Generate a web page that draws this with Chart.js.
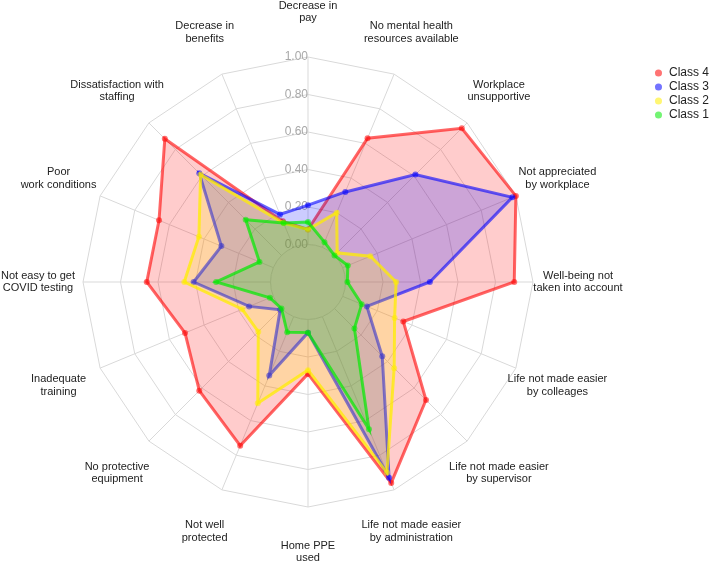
<!DOCTYPE html>
<html>
<head>
<meta charset="utf-8">
<script src="https://cdn.jsdelivr.net/npm/chart.js@4.4.1/dist/chart.umd.min.js"></script>
<style>
  html, body { margin: 0; padding: 0; background: #fff; }
  #wrap { width: 709px; height: 565px; }
</style>
</head>
<body>
<div id="wrap"><canvas id="radarChart"></canvas></div>
<script>
const labels = [
    ['Decrease in', 'pay'],
    ['No mental health', 'resources available'],
    ['Workplace', 'unsupportive'],
    ['Not appreciated', 'by workplace'],
    ['Well-being not', 'taken into account'],
    ['Life not made easier', 'by colleages'],
    ['Life not made easier', 'by supervisor'],
    ['Life not made easier', 'by administration'],
    ['Home PPE', 'used'],
    ['Not well', 'protected'],
    ['No protective', 'equipment'],
    ['Inadequate', 'training'],
    ['Not easy to get', 'COVID testing'],
    ['Poor', 'work conditions'],
    ['Dissatisfaction with', 'staffing'],
    ['Decrease in', 'benefits']
];

const class4 = [0.08, 0.63, 0.96, 1.00, 0.90, 0.35, 0.69, 0.96, 0.29, 0.745, 0.62, 0.51, 0.66, 0.66, 0.88, 0.15];
const class3 = [0.21, 0.32, 0.61, 0.98, 0.45, 0.14, 0.36, 0.93, 0.07, 0.34, 0.01, 0.14, 0.41, 0.30, 0.62, 0.19];
const class2 = [0.08, 0.20, 0.02, 0.16, 0.27, 0.30, 0.45, 0.90, 0.27, 0.50, 0.175, 0.18, 0.46, 0.43, 0.61, 0.14];
const class1 = [0.12, 0.03, 0.00, 0.03, 0.01, 0.11, 0.15, 0.65, 0.07, 0.09, 0.00, 0.02, 0.29, 0.08, 0.27, 0.14];

const tickValues = [0, 0.2, 0.4, 0.6, 0.8, 1.0];

const gridColor = '#d9d9d9';
const fontFamily = '"Liberation Sans", Arial, sans-serif';

function series(name, values, rgb, lineAlpha) {
    return {
        label: name,
        data: values,
        backgroundColor: 'rgba(' + rgb + ',0.2)',
        borderColor: 'rgba(' + rgb + ',' + lineAlpha + ')',
        borderWidth: 3,
        pointRadius: 3,
        pointBorderWidth: 0,
        pointBackgroundColor: 'rgba(' + rgb + ',0.55)',
        fill: 'start'
    };
}

// zero ring, tick labels and centred axis labels
const radarExtras = {
    id: 'radarExtras',
    beforeDatasetsDraw(chart) {
        const scale = chart.scales.r;
        const ctx = chart.ctx;
        const r0 = scale.getDistanceFromCenterForValue(0);
        ctx.save();
        ctx.beginPath();
        ctx.arc(scale.xCenter, scale.yCenter, r0, 0, Math.PI * 2);
        ctx.fillStyle = '#fff';
        ctx.fill();
        ctx.strokeStyle = gridColor;
        ctx.lineWidth = 1;
        ctx.stroke();

        ctx.font = '12px ' + fontFamily;
        ctx.fillStyle = '#a8a8a8';
        ctx.textAlign = 'right';
        ctx.textBaseline = 'middle';
        tickValues.forEach(v => {
            ctx.fillText(v.toFixed(2), scale.xCenter, scale.yCenter - scale.getDistanceFromCenterForValue(v));
        });
        ctx.restore();
    },
    afterDraw(chart) {
        const scale = chart.scales.r;
        const ctx = chart.ctx;
        ctx.save();
        ctx.font = '11px ' + fontFamily;
        ctx.fillStyle = '#222';
        ctx.textAlign = 'center';
        ctx.textBaseline = 'middle';
        labels.forEach((lines, i) => {
            const p = scale.getPointPosition(i, scale.drawingArea * 1.2);
            lines.forEach((t, j) => {
                ctx.fillText(t, p.x, p.y + (j - (lines.length - 1) / 2) * 12.6);
            });
        });
        ctx.restore();
    }
};

const ctx = document.getElementById('radarChart');

new Chart(ctx, {
    type: 'radar',
    data: {
        labels: labels,
        datasets: [
            series('Class 1', class1, '0,235,0', 0.7),
            series('Class 2', class2, '255,238,0', 0.75),
            series('Class 3', class3, '0,0,255', 0.6),
            series('Class 4', class4, '255,0,0', 0.6)
        ]
    },
    options: {
        responsive: true,
        maintainAspectRatio: false,
        animation: false,
        layout: { padding: { top: 65, right: -10 } },
        plugins: {
            legend: {
                position: 'right',
                align: 'start',
                reverse: true,
                labels: {
                    usePointStyle: true,
                    pointStyle: 'circle',
                    boxWidth: 9,
                    boxHeight: 5,
                    padding: 2,
                    color: '#222',
                    font: { family: fontFamily, size: 12 }
                }
            },
            tooltip: { enabled: false }
        },
        scales: {
            r: {
                min: -0.2,
                max: 1,
                ticks: { display: false, stepSize: 0.2 },
                grid: {
                    color: c => Math.abs(c.tick.value) < 1e-9 ? 'rgba(0,0,0,0)' : gridColor,
                    lineWidth: 1
                },
                angleLines: { color: gridColor, lineWidth: 1 },
                pointLabels: { display: false },
                // keep the web the same size and place as the original
                afterSetDimensions: function (scale) {
                    scale.xCenter = 308;
                    scale.yCenter = 282;
                    scale.drawingArea = 225;
                }
            }
        }
    },
    plugins: [radarExtras]
});
</script>
</body>
</html>
